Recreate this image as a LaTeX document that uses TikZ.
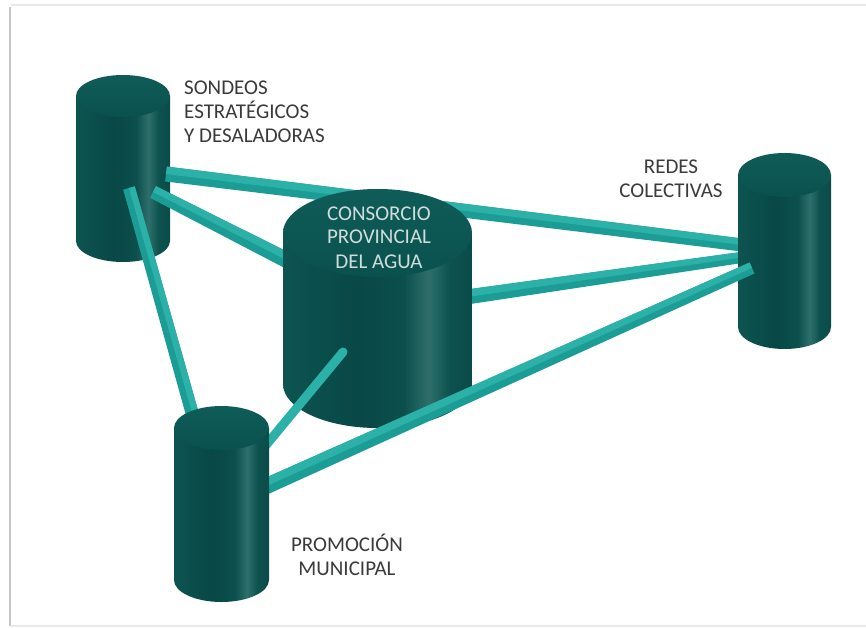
\documentclass[tikz,border=0pt]{standalone}
\usepackage{fontspec}
\setmainfont{Carlito}
\usetikzlibrary{calc}
\definecolor{sA}{HTML}{0D5451}
\definecolor{sB}{HTML}{084846}
\definecolor{sC}{HTML}{0C4F4C}
\definecolor{sH}{HTML}{2E6F6B}
\definecolor{sD}{HTML}{0D524F}
\definecolor{sE}{HTML}{0A4B48}
\definecolor{capL}{HTML}{0F5C59}
\definecolor{capD}{HTML}{0A514E}
\definecolor{barL}{HTML}{2CB1A9}
\definecolor{barD}{HTML}{1B9D95}
\definecolor{labtext}{HTML}{3A3A3A}
\definecolor{ctext}{HTML}{CFDEDC}
\pgfdeclarehorizontalshading{cylside}{100bp}{color(0bp)=(sA); color(25bp)=(sA); color(45bp)=(sB); color(57bp)=(sC); color(63.5bp)=(sH); color(69bp)=(sD); color(75bp)=(sE); color(100bp)=(sE)}
\newcommand\cyl[6]{% name, cx, ytop, rx, ry, ybottom
  \coordinate (#1) at (#2,{(#3+#6)/2});
  \shade[shading=cylside] (#2-#4,#3) -- (#2-#4,#6) arc[start angle=180,end angle=360,x radius=#4pt,y radius=#5pt] -- (#2+#4,#3) -- cycle;
  \shade[top color=capL, bottom color=capD] (#2,#3) ellipse[x radius=#4pt, y radius=#5pt];
}
\newcommand\tbar[4]{% from, to, half width at from, half width at to
  \fill[barD] ($(#1)!#3!90:(#2)$) -- ($(#2)!#4!-90:(#1)$) -- ($(#2)!#4!90:(#1)$) -- ($(#1)!#3!-90:(#2)$) -- cycle;
  \fill[barL] ($(#1)!#3!90:(#2)$) -- ($(#2)!#4!-90:(#1)$) -- (#2) -- (#1) -- cycle;
}
\newcommand\lcol[1]{\vtop{\halign{##\hfil\cr#1\crcr}}}
\newcommand\ccol[1]{\vtop{\halign{\hfil##\hfil\cr#1\crcr}}}
\begin{document}
\begin{tikzpicture}[x=1pt,y=-1pt,
  lab/.style={inner sep=0pt, text=labtext, font=\fontsize{21}{24}\selectfont},
  frameline/.style={line width=1.6pt}]
\useasboundingbox (0,0) rectangle (866,628);
\fill[white] (0,0) rectangle (866,628);
% frame shadow
\draw[frameline, gray!45] (10,7) -- (10,626);
\draw[frameline, gray!18] (11,5) -- (866,5);
\draw[frameline, gray!18] (11,626) -- (866,626);
% connector end points
\coordinate (a1) at (166,174);
\coordinate (c1) at (742,245);
\coordinate (a2) at (153,192);
\coordinate (b2) at (300,267);
\coordinate (b5) at (460,298);
\coordinate (c5) at (745,257);
\coordinate (a3) at (129,188);
\coordinate (d3) at (194,420);
\coordinate (b4) at (343,352);
\coordinate (d4) at (262,450);
\coordinate (d6) at (260,489);
\coordinate (c6) at (752,268);
% cylinder A (sondeos)
\cyl{A}{123}{96}{47}{21}{241}
\tbar{a1}{c1}{7.5pt}{6.5pt}
\tbar{a2}{b2}{6.5pt}{8pt}
\tbar{b5}{c5}{7.5pt}{5.5pt}
\tbar{a3}{d3}{6pt}{6.5pt}
% central cylinder
\cyl{B}{377.5}{233}{94.5}{44}{384}
\draw[barL, line width=9pt, line cap=round] (b4) -- (d4);
% cylinder C (redes)
\cyl{C}{784.5}{175}{46.5}{22}{327}
\tbar{d6}{c6}{8pt}{6pt}
% cylinder D (promocion)
\cyl{D}{221.5}{428}{47.5}{22}{580}
% labels
\node[lab, anchor=base west] (tA) at (184,95) {\lcol{SONDEOS\cr ESTRATÉGICOS\cr Y DESALADORAS}};
\node[lab, anchor=base] (tC) at (671,174) {\ccol{REDES\cr COLECTIVAS}};
\node[lab, text=ctext, anchor=base] (tB) at (379,220) {\ccol{CONSORCIO\cr PROVINCIAL\cr DEL AGUA}};
\node[lab, anchor=base] (tD) at (347,551) {\ccol{PROMOCIÓN\cr MUNICIPAL}};
\end{tikzpicture}
\end{document}
